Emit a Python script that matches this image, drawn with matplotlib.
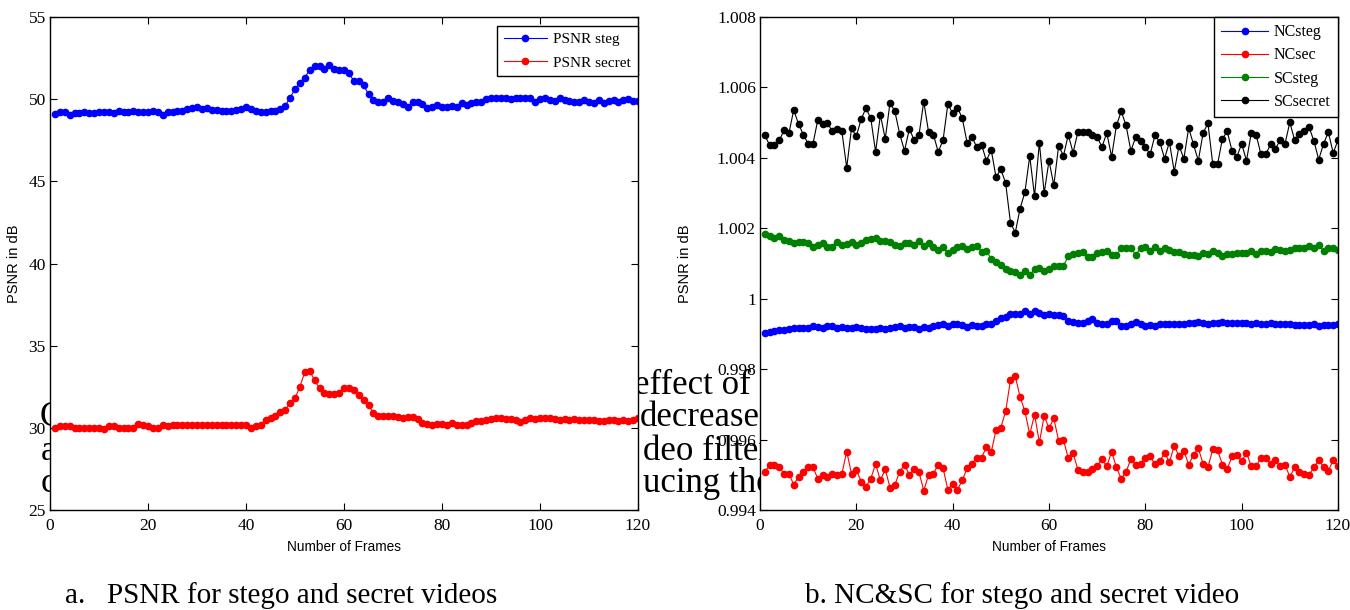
import matplotlib
matplotlib.use("Agg")
import matplotlib.pyplot as plt
import numpy as np

# ---------------- data ----------------
frames = list(range(1, 121))

psnr_steg = [
    49.10, 49.20, 49.20, 49.05, 49.15, 49.15, 49.20, 49.15, 49.15, 49.20,
    49.20, 49.20, 49.15, 49.25, 49.20, 49.20, 49.25, 49.20, 49.20, 49.20,
    49.25, 49.20, 49.05, 49.20, 49.20, 49.25, 49.30, 49.40, 49.45, 49.50,
    49.40, 49.45, 49.35, 49.35, 49.30, 49.30, 49.30, 49.35, 49.40, 49.50,
    49.40, 49.30, 49.20, 49.20, 49.30, 49.30, 49.40, 49.60, 50.10, 50.60,
    51.00, 51.30, 51.80, 52.00, 52.00, 51.85, 52.05, 51.85, 51.75, 51.75,
    51.60, 51.10, 51.10, 50.85, 50.30, 49.95, 49.80, 49.85, 50.05, 49.90,
    49.85, 49.70, 49.55, 49.80, 49.85, 49.70, 49.45, 49.50, 49.65, 49.55,
    49.50, 49.60, 49.50, 49.75, 49.65, 49.75, 49.85, 49.85, 50.00, 50.05,
    50.05, 50.05, 50.05, 50.00, 50.10, 50.10, 50.05, 50.05, 49.85, 50.00,
    50.05, 49.95, 49.90, 50.05, 49.95, 49.90, 49.80, 49.85, 49.95, 49.85,
    49.75, 49.95, 49.75, 49.90, 49.95, 49.80, 49.95, 50.00, 49.90, 49.90,
]

psnr_secret = [
    30.00, 30.10, 30.10, 30.10, 30.00, 30.00, 30.00, 30.00, 30.00, 30.00,
    29.95, 30.10, 30.10, 30.00, 30.00, 30.00, 30.00, 30.25, 30.15, 30.10,
    30.00, 30.00, 30.15, 30.10, 30.15, 30.15, 30.15, 30.15, 30.15, 30.15,
    30.20, 30.20, 30.15, 30.15, 30.15, 30.15, 30.20, 30.20, 30.15, 30.15,
    30.00, 30.10, 30.20, 30.50, 30.60, 30.70, 30.95, 31.10, 31.50, 31.80,
    32.50, 33.40, 33.45, 32.90, 32.40, 32.15, 32.05, 32.05, 32.10, 32.40,
    32.45, 32.30, 32.00, 31.70, 31.40, 30.90, 30.70, 30.70, 30.70, 30.70,
    30.65, 30.60, 30.65, 30.65, 30.55, 30.30, 30.25, 30.20, 30.25, 30.25,
    30.20, 30.30, 30.15, 30.20, 30.15, 30.30, 30.40, 30.40, 30.45, 30.55,
    30.60, 30.60, 30.55, 30.55, 30.50, 30.35, 30.45, 30.60, 30.55, 30.60,
    30.60, 30.60, 30.55, 30.45, 30.55, 30.50, 30.55, 30.50, 30.45, 30.45,
    30.50, 30.40, 30.40, 30.50, 30.45, 30.40, 30.45, 30.40, 30.50, 30.60,
]

nc_steg = [
    0.99902, 0.99905, 0.99908, 0.99910, 0.99910, 0.99913, 0.99916, 0.99916, 0.99916, 0.99918,
    0.99922, 0.99919, 0.99916, 0.99922, 0.99922, 0.99916, 0.99919, 0.99918, 0.99916, 0.99919,
    0.99916, 0.99913, 0.99913, 0.99913, 0.99916, 0.99913, 0.99916, 0.99919, 0.99922, 0.99918,
    0.99919, 0.99919, 0.99913, 0.99919, 0.99916, 0.99922, 0.99925, 0.99927, 0.99922, 0.99929,
    0.99929, 0.99925, 0.99919, 0.99925, 0.99922, 0.99922, 0.99929, 0.99927, 0.99938, 0.99944,
    0.99948, 0.99957, 0.99957, 0.99957, 0.99964, 0.99957, 0.99964, 0.99960, 0.99953, 0.99957,
    0.99953, 0.99953, 0.99950, 0.99938, 0.99933, 0.99932, 0.99932, 0.99936, 0.99941, 0.99932,
    0.99929, 0.99929, 0.99936, 0.99936, 0.99922, 0.99922, 0.99927, 0.99934, 0.99927, 0.99922,
    0.99925, 0.99922, 0.99927, 0.99929, 0.99927, 0.99929, 0.99929, 0.99929, 0.99932, 0.99932,
    0.99934, 0.99932, 0.99929, 0.99932, 0.99932, 0.99934, 0.99932, 0.99932, 0.99932, 0.99932,
    0.99932, 0.99929, 0.99932, 0.99929, 0.99929, 0.99932, 0.99927, 0.99927, 0.99927, 0.99929,
    0.99925, 0.99925, 0.99925, 0.99925, 0.99927, 0.99922, 0.99925, 0.99925, 0.99925, 0.99929,
]

nc_sec = [
    0.99507, 0.99529, 0.99529, 0.99521, 0.99503, 0.99503, 0.99472, 0.99494, 0.99508, 0.99521,
    0.99521, 0.99489, 0.99498, 0.99494, 0.99503, 0.99500, 0.99503, 0.99566, 0.99503, 0.99515,
    0.99480, 0.99466, 0.99489, 0.99531, 0.99484, 0.99516, 0.99463, 0.99472, 0.99508, 0.99529,
    0.99500, 0.99516, 0.99508, 0.99455, 0.99500, 0.99503, 0.99529, 0.99519, 0.99458, 0.99474,
    0.99458, 0.99484, 0.99519, 0.99530, 0.99549, 0.99549, 0.99578, 0.99564, 0.99627, 0.99634,
    0.99680, 0.99769, 0.99780, 0.99721, 0.99680, 0.99615, 0.99671, 0.99592, 0.99667, 0.99632,
    0.99660, 0.99597, 0.99599, 0.99547, 0.99561, 0.99515, 0.99507, 0.99507, 0.99517, 0.99524,
    0.99545, 0.99524, 0.99566, 0.99521, 0.99489, 0.99508, 0.99545, 0.99529, 0.99531, 0.99549,
    0.99552, 0.99530, 0.99538, 0.99563, 0.99535, 0.99583, 0.99552, 0.99568, 0.99529, 0.99557,
    0.99575, 0.99531, 0.99521, 0.99573, 0.99570, 0.99529, 0.99517, 0.99552, 0.99557, 0.99538,
    0.99563, 0.99524, 0.99524, 0.99549, 0.99547, 0.99530, 0.99542, 0.99524, 0.99529, 0.99494,
    0.99521, 0.99507, 0.99503, 0.99500, 0.99521, 0.99542, 0.99522, 0.99511, 0.99542, 0.99524,
]

sc_steg = [
    1.00185, 1.00178, 1.00171, 1.00178, 1.00167, 1.00163, 1.00157, 1.00160, 1.00160, 1.00157,
    1.00146, 1.00153, 1.00157, 1.00146, 1.00146, 1.00162, 1.00153, 1.00155, 1.00160, 1.00153,
    1.00157, 1.00166, 1.00169, 1.00172, 1.00163, 1.00164, 1.00160, 1.00153, 1.00150, 1.00157,
    1.00157, 1.00153, 1.00164, 1.00150, 1.00157, 1.00146, 1.00139, 1.00146, 1.00130, 1.00139,
    1.00146, 1.00150, 1.00141, 1.00146, 1.00150, 1.00133, 1.00136, 1.00113, 1.00104, 1.00097,
    1.00083, 1.00078, 1.00076, 1.00066, 1.00080, 1.00068, 1.00083, 1.00087, 1.00080, 1.00083,
    1.00092, 1.00092, 1.00094, 1.00120, 1.00127, 1.00130, 1.00132, 1.00118, 1.00118, 1.00130,
    1.00132, 1.00136, 1.00124, 1.00124, 1.00143, 1.00143, 1.00143, 1.00125, 1.00143, 1.00146,
    1.00136, 1.00146, 1.00135, 1.00143, 1.00139, 1.00133, 1.00133, 1.00127, 1.00124, 1.00124,
    1.00120, 1.00130, 1.00127, 1.00135, 1.00130, 1.00120, 1.00127, 1.00127, 1.00130, 1.00130,
    1.00130, 1.00135, 1.00127, 1.00135, 1.00135, 1.00132, 1.00141, 1.00139, 1.00136, 1.00139,
    1.00143, 1.00143, 1.00143, 1.00150, 1.00143, 1.00152, 1.00136, 1.00143, 1.00143, 1.00138,
]

sc_secret = [
    1.00464, 1.00436, 1.00436, 1.00450, 1.00478, 1.00470, 1.00536, 1.00496, 1.00466, 1.00440,
    1.00440, 1.00508, 1.00496, 1.00499, 1.00476, 1.00482, 1.00475, 1.00372, 1.00484, 1.00461,
    1.00510, 1.00541, 1.00512, 1.00417, 1.00522, 1.00454, 1.00557, 1.00532, 1.00468, 1.00420,
    1.00482, 1.00451, 1.00464, 1.00560, 1.00473, 1.00466, 1.00417, 1.00450, 1.00552, 1.00527,
    1.00543, 1.00512, 1.00443, 1.00459, 1.00431, 1.00437, 1.00392, 1.00423, 1.00345, 1.00368,
    1.00328, 1.00216, 1.00188, 1.00256, 1.00303, 1.00405, 1.00291, 1.00443, 1.00300, 1.00392,
    1.00322, 1.00434, 1.00406, 1.00465, 1.00415, 1.00473, 1.00473, 1.00473, 1.00464, 1.00459,
    1.00431, 1.00471, 1.00403, 1.00492, 1.00532, 1.00492, 1.00420, 1.00459, 1.00448, 1.00431,
    1.00410, 1.00464, 1.00445, 1.00398, 1.00445, 1.00361, 1.00434, 1.00398, 1.00485, 1.00438,
    1.00392, 1.00471, 1.00498, 1.00382, 1.00382, 1.00454, 1.00475, 1.00420, 1.00403, 1.00440,
    1.00392, 1.00471, 1.00466, 1.00410, 1.00410, 1.00438, 1.00426, 1.00450, 1.00440, 1.00501,
    1.00450, 1.00468, 1.00476, 1.00487, 1.00448, 1.00395, 1.00440, 1.00473, 1.00414, 1.00450,
]

x_ticks = [0, 20, 40, 60, 80, 100, 120]
left_yticks = [25, 30, 35, 40, 45, 50, 55]
right_yticks = [0.994, 0.996, 0.998, 1.0, 1.002, 1.004, 1.006, 1.008]
right_yticklabels = ["0.994", "0.996", "0.998", "1", "1.002", "1.004", "1.006", "1.008"]

left_labels = ["PSNR steg", "PSNR secret"]
right_labels = ["NCsteg", "NCsec", "SCsteg", "SCsecret"]
caption_a = "a.   PSNR for stego and secret videos"
caption_b = "b. NC&SC for stego and secret video"
xlabel = "Number of Frames"
ylabel = "PSNR in dB"

# ---------------- figure ----------------
W, H = 1350, 610
fig = plt.figure(figsize=(W / 100, H / 100), dpi=100)
fig.patch.set_facecolor("white")

serif = ["Liberation Serif", "DejaVu Serif"]
sans = ["Liberation Sans", "DejaVu Sans"]


def fx(px):
    return px / W


def fy(py):
    return 1 - py / H


# body-text fragments of the page behind the charts (partly hidden by them)
body = [
    (634, 385, "effect of"),
    (640, 418, "decreased"),
    (643, 451, "deo filter"),
    (643, 484, "ucing the"),
    (40, 418, "Co"),
    (41, 451, "an"),
    (41, 484, "co"),
]
for px, py, s in body:
    fig.text(fx(px), fy(py), s, fontsize=25, family=serif, va="center",
             ha="left", zorder=-5)


def style_axes(ax, ylab_x):
    ax.set_facecolor("white")
    ax.set_xlim(0, 120)
    ax.set_xticks(x_ticks)
    ax.tick_params(direction="in", top=True, right=True, length=5, width=0.8,
                   labelsize=12.5)
    ax.tick_params(axis="x", pad=6)
    ax.tick_params(axis="y", pad=3)
    for lab in ax.get_xticklabels() + ax.get_yticklabels():
        lab.set_family(serif)
    for sp in ax.spines.values():
        sp.set_linewidth(1.0)
        sp.set_color("black")
    ax.set_xlabel(xlabel, family=sans, fontsize=9.8)
    ax.xaxis.set_label_coords(0.5, -0.060)
    ax.set_ylabel(ylabel, family=sans, fontsize=10.5)
    ax.yaxis.set_label_coords(ylab_x, 0.5)


mk = dict(marker="o", markersize=4.5, linewidth=0.8)

# left chart
axL = fig.add_axes([fx(50), fy(510), fx(638) - fx(50), fy(17) - fy(510)])
axL.plot(frames, psnr_steg, color="#0000ff", label=left_labels[0], **mk)
axL.plot(frames, psnr_secret, color="#ff0000", label=left_labels[1], **mk)
axL.set_ylim(25, 55)
axL.set_yticks(left_yticks)
style_axes(axL, (21 - 50) / 588)
legL = axL.legend(loc="upper right", bbox_to_anchor=(1.0, 0.982), borderaxespad=0,
                  prop={"family": serif, "size": 11}, fancybox=False,
                  edgecolor="black", framealpha=1, handlelength=2.8,
                  labelspacing=0.62, borderpad=0.45, handletextpad=0.45)
legL.get_frame().set_linewidth(1.0)

# right chart
axR = fig.add_axes([fx(760), fy(510), fx(1338) - fx(760), fy(17) - fy(510)])
axR.plot(frames, nc_steg, color="#0000ff", label=right_labels[0], **mk)
axR.plot(frames, nc_sec, color="#ff0000", label=right_labels[1], **mk)
axR.plot(frames, sc_steg, color="#008000", label=right_labels[2], **mk)
axR.plot(frames, sc_secret, color="#000000", label=right_labels[3], **mk)
axR.set_ylim(0.994, 1.008)
axR.set_yticks(right_yticks)
axR.set_yticklabels(right_yticklabels)
style_axes(axR, (692 - 760) / 578)
legR = axR.legend(loc="upper right", borderaxespad=0,
                  prop={"family": serif, "size": 11.5}, fancybox=False,
                  edgecolor="black", framealpha=1, handlelength=2.9,
                  labelspacing=0.45, borderpad=0.45, handletextpad=0.4)
legR.get_frame().set_linewidth(1.0)

# captions
fig.text(fx(65), fy(596), caption_a, fontsize=21, family=serif, va="center", ha="left")
fig.text(fx(805), fy(596), caption_b, fontsize=21, family=serif, va="center", ha="left")

fig.savefig("out.png", dpi=100)
